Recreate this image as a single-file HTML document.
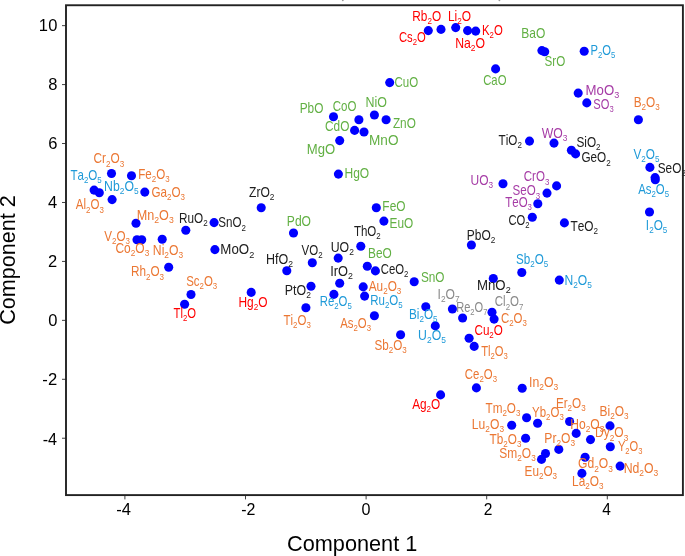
<!DOCTYPE html>
<html><head><meta charset="utf-8"><title>PCA of oxides</title>
<style>
html,body{margin:0;padding:0;background:#fff;overflow:hidden;}
svg{display:block;will-change:transform;}
text{font-family:"Liberation Sans",sans-serif;font-kerning:none;}
</style></head><body>
<svg width="685" height="556" viewBox="0 0 685 556">
<rect x="0" y="0" width="685" height="556" fill="#fff"/>
<path d="M124.90 495.10V499.40M245.50 495.10V499.40M366.10 495.10V499.40M486.70 495.10V499.40M607.30 495.10V499.40M66.00 25.65H62.00M66.00 84.59H62.00M66.00 143.53H62.00M66.00 202.47H62.00M66.00 261.41H62.00M66.00 320.35H62.00M66.00 379.29H62.00M66.00 438.23H62.00" stroke="#404040" stroke-width="1" fill="none"/>
<text font-size="16.5" fill="#000" transform="translate(38.64 31.00) scale(1.0000 1)">1</text>
<text font-size="16.5" fill="#000" transform="translate(48.27 31.00) scale(1.0000 1)">0</text>
<text font-size="16.5" fill="#000" transform="translate(48.24 90.40) scale(1.0000 1)">8</text>
<text font-size="16.5" fill="#000" transform="translate(48.35 148.90) scale(1.0000 1)">6</text>
<text font-size="16.5" fill="#000" transform="translate(48.01 208.10) scale(1.0000 1)">4</text>
<text font-size="16.5" fill="#000" transform="translate(48.05 267.00) scale(1.0000 1)">2</text>
<text font-size="16.5" fill="#000" transform="translate(48.37 326.00) scale(1.0000 1)">0</text>
<text font-size="16.5" fill="#000" transform="translate(42.36 385.00) scale(1.0070 1)">-2</text>
<text font-size="16.5" fill="#000" transform="translate(42.68 444.60) scale(0.9811 1)">-4</text>
<text font-size="16.5" fill="#000" transform="translate(116.36 514.60) scale(1.0034 1)">-4</text>
<text font-size="16.5" fill="#000" transform="translate(241.29 514.60) scale(0.9689 1)">-2</text>
<text font-size="16.5" fill="#000" transform="translate(361.57 514.60) scale(0.9762 1)">0</text>
<text font-size="16.5" fill="#000" transform="translate(483.72 514.60) scale(0.9445 1)">2</text>
<text font-size="16.5" fill="#000" transform="translate(602.34 514.60) scale(0.9381 1)">4</text>
<text font-size="22" fill="#000" transform="translate(287.00 550.90) scale(0.9870 1)">Component 1</text>
<text font-size="22" fill="#000" transform="translate(15.2 323.70) rotate(-90) scale(0.9818 1) translate(-1.12 0)">Component 2</text>
<g fill="#0000ff">
<circle cx="428.3" cy="30.6" r="4.55"/>
<circle cx="441.0" cy="29.4" r="4.55"/>
<circle cx="455.7" cy="27.6" r="4.55"/>
<circle cx="467.6" cy="30.6" r="4.55"/>
<circle cx="475.7" cy="31.1" r="4.55"/>
<circle cx="495.6" cy="68.9" r="4.55"/>
<circle cx="541.9" cy="50.6" r="4.55"/>
<circle cx="544.7" cy="51.8" r="4.55"/>
<circle cx="584.2" cy="51.2" r="4.55"/>
<circle cx="578.2" cy="93.1" r="4.55"/>
<circle cx="586.8" cy="102.9" r="4.55"/>
<circle cx="638.4" cy="119.8" r="4.55"/>
<circle cx="389.7" cy="82.6" r="4.55"/>
<circle cx="333.5" cy="116.7" r="4.55"/>
<circle cx="358.9" cy="119.7" r="4.55"/>
<circle cx="374.4" cy="115.0" r="4.55"/>
<circle cx="386.1" cy="119.7" r="4.55"/>
<circle cx="354.6" cy="130.4" r="4.55"/>
<circle cx="364.0" cy="132.0" r="4.55"/>
<circle cx="339.7" cy="140.6" r="4.55"/>
<circle cx="338.4" cy="174.1" r="4.55"/>
<circle cx="376.3" cy="207.8" r="4.55"/>
<circle cx="383.9" cy="221.1" r="4.55"/>
<circle cx="360.8" cy="246.2" r="4.55"/>
<circle cx="338.2" cy="258.1" r="4.55"/>
<circle cx="312.3" cy="262.8" r="4.55"/>
<circle cx="367.3" cy="266.2" r="4.55"/>
<circle cx="375.4" cy="270.9" r="4.55"/>
<circle cx="414.2" cy="281.7" r="4.55"/>
<circle cx="339.7" cy="283.2" r="4.55"/>
<circle cx="311.0" cy="286.3" r="4.55"/>
<circle cx="363.2" cy="286.9" r="4.55"/>
<circle cx="333.9" cy="294.4" r="4.55"/>
<circle cx="364.6" cy="296.1" r="4.55"/>
<circle cx="305.9" cy="307.8" r="4.55"/>
<circle cx="374.4" cy="315.8" r="4.55"/>
<circle cx="425.8" cy="306.8" r="4.55"/>
<circle cx="400.6" cy="334.7" r="4.55"/>
<circle cx="435.3" cy="325.9" r="4.55"/>
<circle cx="452.4" cy="309.0" r="4.55"/>
<circle cx="462.6" cy="318.0" r="4.55"/>
<circle cx="492.0" cy="312.3" r="4.55"/>
<circle cx="494.1" cy="319.1" r="4.55"/>
<circle cx="469.1" cy="338.2" r="4.55"/>
<circle cx="474.2" cy="346.4" r="4.55"/>
<circle cx="476.4" cy="387.9" r="4.55"/>
<circle cx="440.6" cy="394.9" r="4.55"/>
<circle cx="522.2" cy="388.2" r="4.55"/>
<circle cx="526.6" cy="417.7" r="4.55"/>
<circle cx="537.6" cy="423.2" r="4.55"/>
<circle cx="511.7" cy="425.3" r="4.55"/>
<circle cx="525.6" cy="438.2" r="4.55"/>
<circle cx="545.5" cy="453.5" r="4.55"/>
<circle cx="541.5" cy="459.4" r="4.55"/>
<circle cx="569.6" cy="421.5" r="4.55"/>
<circle cx="610.0" cy="425.9" r="4.55"/>
<circle cx="576.2" cy="433.4" r="4.55"/>
<circle cx="590.5" cy="439.6" r="4.55"/>
<circle cx="558.8" cy="449.4" r="4.55"/>
<circle cx="610.3" cy="446.8" r="4.55"/>
<circle cx="585.1" cy="457.2" r="4.55"/>
<circle cx="620.1" cy="466.1" r="4.55"/>
<circle cx="581.9" cy="473.4" r="4.55"/>
<circle cx="471.4" cy="245.0" r="4.55"/>
<circle cx="493.3" cy="278.5" r="4.55"/>
<circle cx="521.8" cy="272.5" r="4.55"/>
<circle cx="559.3" cy="280.1" r="4.55"/>
<circle cx="529.5" cy="141.1" r="4.55"/>
<circle cx="554.0" cy="143.1" r="4.55"/>
<circle cx="571.4" cy="150.3" r="4.55"/>
<circle cx="575.6" cy="153.9" r="4.55"/>
<circle cx="503.0" cy="183.7" r="4.55"/>
<circle cx="556.6" cy="185.9" r="4.55"/>
<circle cx="547.0" cy="193.1" r="4.55"/>
<circle cx="537.8" cy="203.7" r="4.55"/>
<circle cx="532.3" cy="217.2" r="4.55"/>
<circle cx="564.4" cy="222.9" r="4.55"/>
<circle cx="649.9" cy="167.4" r="4.55"/>
<circle cx="655.1" cy="177.6" r="4.55"/>
<circle cx="655.3" cy="179.7" r="4.55"/>
<circle cx="649.5" cy="212.0" r="4.55"/>
<circle cx="111.5" cy="173.5" r="4.55"/>
<circle cx="131.5" cy="175.8" r="4.55"/>
<circle cx="94.1" cy="190.1" r="4.55"/>
<circle cx="99.3" cy="192.7" r="4.55"/>
<circle cx="112.1" cy="199.6" r="4.55"/>
<circle cx="144.8" cy="192.1" r="4.55"/>
<circle cx="136.0" cy="223.2" r="4.55"/>
<circle cx="185.8" cy="230.2" r="4.55"/>
<circle cx="214.1" cy="222.6" r="4.55"/>
<circle cx="261.2" cy="207.7" r="4.55"/>
<circle cx="293.5" cy="233.0" r="4.55"/>
<circle cx="214.9" cy="249.6" r="4.55"/>
<circle cx="286.8" cy="270.7" r="4.55"/>
<circle cx="137.0" cy="239.7" r="4.55"/>
<circle cx="141.7" cy="239.7" r="4.55"/>
<circle cx="162.2" cy="239.3" r="4.55"/>
<circle cx="168.7" cy="267.3" r="4.55"/>
<circle cx="191.0" cy="294.5" r="4.55"/>
<circle cx="184.6" cy="304.3" r="4.55"/>
<circle cx="251.2" cy="292.4" r="4.55"/>
</g>
<g font-size="14" stroke-width="0">
<text fill="#ff0000" stroke="#ff0000" transform="translate(412.28 21.10) scale(0.8450 1)"><tspan>Rb</tspan><tspan font-size="9.6" dy="3.1">2</tspan><tspan dy="-3.1">O</tspan></text>
<text fill="#ff0000" stroke="#ff0000" transform="translate(447.97 20.90) scale(0.8535 1)"><tspan>Li</tspan><tspan font-size="9.6" dy="3.1">2</tspan><tspan dy="-3.1">O</tspan></text>
<text fill="#ff0000" stroke="#ff0000" transform="translate(398.98 42.20) scale(0.8042 1)"><tspan>Cs</tspan><tspan font-size="9.6" dy="3.1">2</tspan><tspan dy="-3.1">O</tspan></text>
<text fill="#ff0000" stroke="#ff0000" transform="translate(482.02 35.00) scale(0.8127 1)"><tspan>K</tspan><tspan font-size="9.6" dy="3.1">2</tspan><tspan dy="-3.1">O</tspan></text>
<text fill="#ff0000" stroke="#ff0000" transform="translate(455.14 48.30) scale(0.8760 1)"><tspan>Na</tspan><tspan font-size="9.6" dy="3.1">2</tspan><tspan dy="-3.1">O</tspan></text>
<text fill="#ff0000" stroke="#ff0000" transform="translate(238.47 307.00) scale(0.8512 1)"><tspan>Hg</tspan><tspan font-size="9.6" dy="3.1">2</tspan><tspan dy="-3.1">O</tspan></text>
<text fill="#ff0000" stroke="#ff0000" transform="translate(173.60 317.80) scale(0.8065 1)"><tspan>Tl</tspan><tspan font-size="9.6" dy="3.1">2</tspan><tspan dy="-3.1">O</tspan></text>
<text fill="#ff0000" stroke="#ff0000" transform="translate(474.46 335.00) scale(0.8337 1)"><tspan>Cu</tspan><tspan font-size="9.6" dy="3.1">2</tspan><tspan dy="-3.1">O</tspan></text>
<text fill="#ff0000" stroke="#ff0000" transform="translate(412.13 408.60) scale(0.8452 1)"><tspan>Ag</tspan><tspan font-size="9.6" dy="3.1">2</tspan><tspan dy="-3.1">O</tspan></text>
<text fill="#62b044" stroke="#62b044" transform="translate(521.36 38.10) scale(0.8589 1)"><tspan>BaO</tspan></text>
<text fill="#62b044" stroke="#62b044" transform="translate(544.62 66.00) scale(0.8311 1)"><tspan>SrO</tspan></text>
<text fill="#62b044" stroke="#62b044" transform="translate(483.17 85.10) scale(0.8101 1)"><tspan>CaO</tspan></text>
<text fill="#62b044" stroke="#62b044" transform="translate(394.46 87.00) scale(0.8247 1)"><tspan>CuO</tspan></text>
<text fill="#62b044" stroke="#62b044" transform="translate(299.68 112.90) scale(0.8475 1)"><tspan>PbO</tspan></text>
<text fill="#62b044" stroke="#62b044" transform="translate(332.76 110.80) scale(0.8247 1)"><tspan>CoO</tspan></text>
<text fill="#62b044" stroke="#62b044" transform="translate(365.43 107.20) scale(0.8882 1)"><tspan>NiO</tspan></text>
<text fill="#62b044" stroke="#62b044" transform="translate(392.88 128.20) scale(0.8425 1)"><tspan>ZnO</tspan></text>
<text fill="#62b044" stroke="#62b044" transform="translate(325.05 131.30) scale(0.8466 1)"><tspan>CdO</tspan></text>
<text fill="#62b044" stroke="#62b044" transform="translate(369.03 144.60) scale(0.9713 1)"><tspan>MnO</tspan></text>
<text fill="#62b044" stroke="#62b044" transform="translate(306.77 153.60) scale(0.9362 1)"><tspan>MgO</tspan></text>
<text fill="#62b044" stroke="#62b044" transform="translate(344.46 178.30) scale(0.8603 1)"><tspan>HgO</tspan></text>
<text fill="#62b044" stroke="#62b044" transform="translate(382.37 210.80) scale(0.8501 1)"><tspan>FeO</tspan></text>
<text fill="#62b044" stroke="#62b044" transform="translate(389.48 227.70) scale(0.8475 1)"><tspan>EuO</tspan></text>
<text fill="#62b044" stroke="#62b044" transform="translate(286.86 225.80) scale(0.8627 1)"><tspan>PdO</tspan></text>
<text fill="#62b044" stroke="#62b044" transform="translate(368.08 257.80) scale(0.8475 1)"><tspan>BeO</tspan></text>
<text fill="#62b044" stroke="#62b044" transform="translate(420.91 281.50) scale(0.8424 1)"><tspan>SnO</tspan></text>
<text fill="#1f9ad8" stroke="#1f9ad8" transform="translate(590.43 55.20) scale(0.8040 1)"><tspan>P</tspan><tspan font-size="9.6" dy="3.1">2</tspan><tspan dy="-3.1">O</tspan><tspan font-size="9.6" dy="3.1">5</tspan></text>
<text fill="#1f9ad8" stroke="#1f9ad8" transform="translate(70.39 179.70) scale(0.8282 1)"><tspan>Ta</tspan><tspan font-size="9.6" dy="3.1">2</tspan><tspan dy="-3.1">O</tspan><tspan font-size="9.6" dy="3.1">5</tspan></text>
<text fill="#1f9ad8" stroke="#1f9ad8" transform="translate(104.04 191.10) scale(0.8757 1)"><tspan>Nb</tspan><tspan font-size="9.6" dy="3.1">2</tspan><tspan dy="-3.1">O</tspan><tspan font-size="9.6" dy="3.1">5</tspan></text>
<text fill="#1f9ad8" stroke="#1f9ad8" transform="translate(633.50 158.70) scale(0.8410 1)"><tspan>V</tspan><tspan font-size="9.6" dy="3.1">2</tspan><tspan dy="-3.1">O</tspan><tspan font-size="9.6" dy="3.1">5</tspan></text>
<text fill="#1f9ad8" stroke="#1f9ad8" transform="translate(638.13 193.90) scale(0.8139 1)"><tspan>As</tspan><tspan font-size="9.6" dy="3.1">2</tspan><tspan dy="-3.1">O</tspan><tspan font-size="9.6" dy="3.1">5</tspan></text>
<text fill="#1f9ad8" stroke="#1f9ad8" transform="translate(645.86 230.00) scale(0.8417 1)"><tspan>I</tspan><tspan font-size="9.6" dy="3.1">2</tspan><tspan dy="-3.1">O</tspan><tspan font-size="9.6" dy="3.1">5</tspan></text>
<text fill="#1f9ad8" stroke="#1f9ad8" transform="translate(516.02 264.00) scale(0.8339 1)"><tspan>Sb</tspan><tspan font-size="9.6" dy="3.1">2</tspan><tspan dy="-3.1">O</tspan><tspan font-size="9.6" dy="3.1">5</tspan></text>
<text fill="#1f9ad8" stroke="#1f9ad8" transform="translate(564.46 284.50) scale(0.8663 1)"><tspan>N</tspan><tspan font-size="9.6" dy="3.1">2</tspan><tspan dy="-3.1">O</tspan><tspan font-size="9.6" dy="3.1">5</tspan></text>
<text fill="#1f9ad8" stroke="#1f9ad8" transform="translate(319.72 306.00) scale(0.8124 1)"><tspan>Re</tspan><tspan font-size="9.6" dy="3.1">2</tspan><tspan dy="-3.1">O</tspan><tspan font-size="9.6" dy="3.1">5</tspan></text>
<text fill="#1f9ad8" stroke="#1f9ad8" transform="translate(370.20 305.00) scale(0.8229 1)"><tspan>Ru</tspan><tspan font-size="9.6" dy="3.1">2</tspan><tspan dy="-3.1">O</tspan><tspan font-size="9.6" dy="3.1">5</tspan></text>
<text fill="#1f9ad8" stroke="#1f9ad8" transform="translate(408.98 318.50) scale(0.8409 1)"><tspan>Bi</tspan><tspan font-size="9.6" dy="3.1">2</tspan><tspan dy="-3.1">O</tspan><tspan font-size="9.6" dy="3.1">5</tspan></text>
<text fill="#1f9ad8" stroke="#1f9ad8" transform="translate(418.10 340.20) scale(0.8776 1)"><tspan>U</tspan><tspan font-size="9.6" dy="3.1">2</tspan><tspan dy="-3.1">O</tspan><tspan font-size="9.6" dy="3.1">5</tspan></text>
<text fill="#a63ca6" stroke="#a63ca6" transform="translate(585.57 95.00) scale(0.9441 1)"><tspan>MoO</tspan><tspan font-size="9.6" dy="3.1">3</tspan></text>
<text fill="#a63ca6" stroke="#a63ca6" transform="translate(593.34 108.70) scale(0.7956 1)"><tspan>SO</tspan><tspan font-size="9.6" dy="3.1">3</tspan></text>
<text fill="#a63ca6" stroke="#a63ca6" transform="translate(541.70 137.90) scale(0.8736 1)"><tspan>WO</tspan><tspan font-size="9.6" dy="3.1">3</tspan></text>
<text fill="#a63ca6" stroke="#a63ca6" transform="translate(470.52 184.80) scale(0.8576 1)"><tspan>UO</tspan><tspan font-size="9.6" dy="3.1">3</tspan></text>
<text fill="#a63ca6" stroke="#a63ca6" transform="translate(523.76 181.40) scale(0.8270 1)"><tspan>CrO</tspan><tspan font-size="9.6" dy="3.1">3</tspan></text>
<text fill="#a63ca6" stroke="#a63ca6" transform="translate(512.62 195.40) scale(0.8268 1)"><tspan>SeO</tspan><tspan font-size="9.6" dy="3.1">3</tspan></text>
<text fill="#a63ca6" stroke="#a63ca6" transform="translate(505.29 206.50) scale(0.8200 1)"><tspan>TeO</tspan><tspan font-size="9.6" dy="3.1">3</tspan></text>
<text fill="#eb7733" stroke="#eb7733" transform="translate(93.55 163.40) scale(0.8464 1)"><tspan>Cr</tspan><tspan font-size="9.6" dy="3.1">2</tspan><tspan dy="-3.1">O</tspan><tspan font-size="9.6" dy="3.1">3</tspan></text>
<text fill="#eb7733" stroke="#eb7733" transform="translate(138.20 178.70) scale(0.8284 1)"><tspan>Fe</tspan><tspan font-size="9.6" dy="3.1">2</tspan><tspan dy="-3.1">O</tspan><tspan font-size="9.6" dy="3.1">3</tspan></text>
<text fill="#eb7733" stroke="#eb7733" transform="translate(151.46 196.50) scale(0.8334 1)"><tspan>Ga</tspan><tspan font-size="9.6" dy="3.1">2</tspan><tspan dy="-3.1">O</tspan><tspan font-size="9.6" dy="3.1">3</tspan></text>
<text fill="#eb7733" stroke="#eb7733" transform="translate(75.73 209.40) scale(0.8252 1)"><tspan>Al</tspan><tspan font-size="9.6" dy="3.1">2</tspan><tspan dy="-3.1">O</tspan><tspan font-size="9.6" dy="3.1">3</tspan></text>
<text fill="#eb7733" stroke="#eb7733" transform="translate(136.71 220.00) scale(0.9025 1)"><tspan>Mn</tspan><tspan font-size="9.6" dy="3.1">2</tspan><tspan dy="-3.1">O</tspan><tspan font-size="9.6" dy="3.1">3</tspan></text>
<text fill="#eb7733" stroke="#eb7733" transform="translate(104.30 240.60) scale(0.8316 1)"><tspan>V</tspan><tspan font-size="9.6" dy="3.1">2</tspan><tspan dy="-3.1">O</tspan><tspan font-size="9.6" dy="3.1">3</tspan></text>
<text fill="#eb7733" stroke="#eb7733" transform="translate(115.44 253.20) scale(0.8557 1)"><tspan>Co</tspan><tspan font-size="9.6" dy="3.1">2</tspan><tspan dy="-3.1">O</tspan><tspan font-size="9.6" dy="3.1">3</tspan></text>
<text fill="#eb7733" stroke="#eb7733" transform="translate(152.85 254.90) scale(0.8700 1)"><tspan>Ni</tspan><tspan font-size="9.6" dy="3.1">2</tspan><tspan dy="-3.1">O</tspan><tspan font-size="9.6" dy="3.1">3</tspan></text>
<text fill="#eb7733" stroke="#eb7733" transform="translate(130.99 276.40) scale(0.8392 1)"><tspan>Rh</tspan><tspan font-size="9.6" dy="3.1">2</tspan><tspan dy="-3.1">O</tspan><tspan font-size="9.6" dy="3.1">3</tspan></text>
<text fill="#eb7733" stroke="#eb7733" transform="translate(186.13 286.30) scale(0.8196 1)"><tspan>Sc</tspan><tspan font-size="9.6" dy="3.1">2</tspan><tspan dy="-3.1">O</tspan><tspan font-size="9.6" dy="3.1">3</tspan></text>
<text fill="#eb7733" stroke="#eb7733" transform="translate(283.49 324.60) scale(0.8217 1)"><tspan>Ti</tspan><tspan font-size="9.6" dy="3.1">2</tspan><tspan dy="-3.1">O</tspan><tspan font-size="9.6" dy="3.1">3</tspan></text>
<text fill="#eb7733" stroke="#eb7733" transform="translate(368.73 290.70) scale(0.8420 1)"><tspan>Au</tspan><tspan font-size="9.6" dy="3.1">2</tspan><tspan dy="-3.1">O</tspan><tspan font-size="9.6" dy="3.1">3</tspan></text>
<text fill="#eb7733" stroke="#eb7733" transform="translate(340.13 327.50) scale(0.8143 1)"><tspan>As</tspan><tspan font-size="9.6" dy="3.1">2</tspan><tspan dy="-3.1">O</tspan><tspan font-size="9.6" dy="3.1">3</tspan></text>
<text fill="#eb7733" stroke="#eb7733" transform="translate(374.42 350.00) scale(0.8343 1)"><tspan>Sb</tspan><tspan font-size="9.6" dy="3.1">2</tspan><tspan dy="-3.1">O</tspan><tspan font-size="9.6" dy="3.1">3</tspan></text>
<text fill="#eb7733" stroke="#eb7733" transform="translate(633.68 107.30) scale(0.8420 1)"><tspan>B</tspan><tspan font-size="9.6" dy="3.1">2</tspan><tspan dy="-3.1">O</tspan><tspan font-size="9.6" dy="3.1">3</tspan></text>
<text fill="#eb7733" stroke="#eb7733" transform="translate(500.97 322.80) scale(0.8185 1)"><tspan>C</tspan><tspan font-size="9.6" dy="3.1">2</tspan><tspan dy="-3.1">O</tspan><tspan font-size="9.6" dy="3.1">3</tspan></text>
<text fill="#eb7733" stroke="#eb7733" transform="translate(481.20 355.50) scale(0.8032 1)"><tspan>Tl</tspan><tspan font-size="9.6" dy="3.1">2</tspan><tspan dy="-3.1">O</tspan><tspan font-size="9.6" dy="3.1">3</tspan></text>
<text fill="#eb7733" stroke="#eb7733" transform="translate(464.87 379.20) scale(0.8140 1)"><tspan>Ce</tspan><tspan font-size="9.6" dy="3.1">2</tspan><tspan dy="-3.1">O</tspan><tspan font-size="9.6" dy="3.1">3</tspan></text>
<text fill="#eb7733" stroke="#eb7733" transform="translate(529.01 386.80) scale(0.8785 1)"><tspan>In</tspan><tspan font-size="9.6" dy="3.1">2</tspan><tspan dy="-3.1">O</tspan><tspan font-size="9.6" dy="3.1">3</tspan></text>
<text fill="#eb7733" stroke="#eb7733" transform="translate(485.49 412.70) scale(0.8357 1)"><tspan>Tm</tspan><tspan font-size="9.6" dy="3.1">2</tspan><tspan dy="-3.1">O</tspan><tspan font-size="9.6" dy="3.1">3</tspan></text>
<text fill="#eb7733" stroke="#eb7733" transform="translate(532.10 417.00) scale(0.8192 1)"><tspan>Yb</tspan><tspan font-size="9.6" dy="3.1">2</tspan><tspan dy="-3.1">O</tspan><tspan font-size="9.6" dy="3.1">3</tspan></text>
<text fill="#eb7733" stroke="#eb7733" transform="translate(555.89 407.80) scale(0.8383 1)"><tspan>Er</tspan><tspan font-size="9.6" dy="3.1">2</tspan><tspan dy="-3.1">O</tspan><tspan font-size="9.6" dy="3.1">3</tspan></text>
<text fill="#eb7733" stroke="#eb7733" transform="translate(599.57 416.00) scale(0.8537 1)"><tspan>Bi</tspan><tspan font-size="9.6" dy="3.1">2</tspan><tspan dy="-3.1">O</tspan><tspan font-size="9.6" dy="3.1">3</tspan></text>
<text fill="#eb7733" stroke="#eb7733" transform="translate(471.86 428.70) scale(0.8659 1)"><tspan>Lu</tspan><tspan font-size="9.6" dy="3.1">2</tspan><tspan dy="-3.1">O</tspan><tspan font-size="9.6" dy="3.1">3</tspan></text>
<text fill="#eb7733" stroke="#eb7733" transform="translate(570.16 429.20) scale(0.8656 1)"><tspan>Ho</tspan><tspan font-size="9.6" dy="3.1">2</tspan><tspan dy="-3.1">O</tspan><tspan font-size="9.6" dy="3.1">3</tspan></text>
<text fill="#eb7733" stroke="#eb7733" transform="translate(595.07 437.40) scale(0.8570 1)"><tspan>Dy</tspan><tspan font-size="9.6" dy="3.1">2</tspan><tspan dy="-3.1">O</tspan><tspan font-size="9.6" dy="3.1">3</tspan></text>
<text fill="#eb7733" stroke="#eb7733" transform="translate(489.59 444.00) scale(0.8394 1)"><tspan>Tb</tspan><tspan font-size="9.6" dy="3.1">2</tspan><tspan dy="-3.1">O</tspan><tspan font-size="9.6" dy="3.1">3</tspan></text>
<text fill="#eb7733" stroke="#eb7733" transform="translate(544.36 442.50) scale(0.8648 1)"><tspan>Pr</tspan><tspan font-size="9.6" dy="3.1">2</tspan><tspan dy="-3.1">O</tspan><tspan font-size="9.6" dy="3.1">3</tspan></text>
<text fill="#eb7733" stroke="#eb7733" transform="translate(617.91 451.00) scale(0.7953 1)"><tspan>Y</tspan><tspan font-size="9.6" dy="3.1">2</tspan><tspan dy="-3.1">O</tspan><tspan font-size="9.6" dy="3.1">3</tspan></text>
<text fill="#eb7733" stroke="#eb7733" transform="translate(499.31 458.30) scale(0.8552 1)"><tspan>Sm</tspan><tspan font-size="9.6" dy="3.1">2</tspan><tspan dy="-3.1">O</tspan><tspan font-size="9.6" dy="3.1">3</tspan></text>
<text fill="#eb7733" stroke="#eb7733" transform="translate(578.04 468.40) scale(0.8666 1)"><tspan>Gd</tspan><tspan font-size="9.6" dy="3.1">2</tspan><tspan dy="-3.1">O</tspan><tspan font-size="9.6" dy="3.1">3</tspan></text>
<text fill="#eb7733" stroke="#eb7733" transform="translate(623.64 472.90) scale(0.8788 1)"><tspan>Nd</tspan><tspan font-size="9.6" dy="3.1">2</tspan><tspan dy="-3.1">O</tspan><tspan font-size="9.6" dy="3.1">3</tspan></text>
<text fill="#eb7733" stroke="#eb7733" transform="translate(524.58 476.00) scale(0.8405 1)"><tspan>Eu</tspan><tspan font-size="9.6" dy="3.1">2</tspan><tspan dy="-3.1">O</tspan><tspan font-size="9.6" dy="3.1">3</tspan></text>
<text fill="#eb7733" stroke="#eb7733" transform="translate(572.07 486.10) scale(0.8490 1)"><tspan>La</tspan><tspan font-size="9.6" dy="3.1">2</tspan><tspan dy="-3.1">O</tspan><tspan font-size="9.6" dy="3.1">3</tspan></text>
<text fill="#202020" stroke="#202020" transform="translate(249.07 196.80) scale(0.8627 1)"><tspan>ZrO</tspan><tspan font-size="9.6" dy="3.1">2</tspan></text>
<text fill="#202020" stroke="#202020" transform="translate(178.99 223.00) scale(0.8402 1)"><tspan>RuO</tspan><tspan font-size="9.6" dy="3.1">2</tspan></text>
<text fill="#202020" stroke="#202020" transform="translate(218.32 227.40) scale(0.8283 1)"><tspan>SnO</tspan><tspan font-size="9.6" dy="3.1">2</tspan></text>
<text fill="#202020" stroke="#202020" transform="translate(220.36 254.40) scale(0.9517 1)"><tspan>MoO</tspan><tspan font-size="9.6" dy="3.1">2</tspan></text>
<text fill="#202020" stroke="#202020" transform="translate(266.02 263.60) scale(0.8952 1)"><tspan>HfO</tspan><tspan font-size="9.6" dy="3.1">2</tspan></text>
<text fill="#202020" stroke="#202020" transform="translate(301.50 254.70) scale(0.8233 1)"><tspan>VO</tspan><tspan font-size="9.6" dy="3.1">2</tspan></text>
<text fill="#202020" stroke="#202020" transform="translate(330.70 251.70) scale(0.8799 1)"><tspan>UO</tspan><tspan font-size="9.6" dy="3.1">2</tspan></text>
<text fill="#202020" stroke="#202020" transform="translate(353.89 235.50) scale(0.8247 1)"><tspan>ThO</tspan><tspan font-size="9.6" dy="3.1">2</tspan></text>
<text fill="#202020" stroke="#202020" transform="translate(330.17 276.00) scale(0.9172 1)"><tspan>IrO</tspan><tspan font-size="9.6" dy="3.1">2</tspan></text>
<text fill="#202020" stroke="#202020" transform="translate(380.77 273.90) scale(0.8108 1)"><tspan>CeO</tspan><tspan font-size="9.6" dy="3.1">2</tspan></text>
<text fill="#202020" stroke="#202020" transform="translate(284.83 294.60) scale(0.8841 1)"><tspan>PtO</tspan><tspan font-size="9.6" dy="3.1">2</tspan></text>
<text fill="#202020" stroke="#202020" transform="translate(498.59 145.00) scale(0.8341 1)"><tspan>TiO</tspan><tspan font-size="9.6" dy="3.1">2</tspan></text>
<text fill="#202020" stroke="#202020" transform="translate(576.41 146.50) scale(0.8418 1)"><tspan>SiO</tspan><tspan font-size="9.6" dy="3.1">2</tspan></text>
<text fill="#202020" stroke="#202020" transform="translate(581.46 162.40) scale(0.8393 1)"><tspan>GeO</tspan><tspan font-size="9.6" dy="3.1">2</tspan></text>
<text fill="#202020" stroke="#202020" transform="translate(657.71 172.90) scale(0.8474 1)"><tspan>SeO</tspan><tspan font-size="9.6" dy="3.1">2</tspan></text>
<text fill="#202020" stroke="#202020" transform="translate(508.38 224.70) scale(0.8033 1)"><tspan>CO</tspan><tspan font-size="9.6" dy="3.1">2</tspan></text>
<text fill="#202020" stroke="#202020" transform="translate(570.48 231.00) scale(0.8467 1)"><tspan>TeO</tspan><tspan font-size="9.6" dy="3.1">2</tspan></text>
<text fill="#202020" stroke="#202020" transform="translate(466.77 240.30) scale(0.8543 1)"><tspan>PbO</tspan><tspan font-size="9.6" dy="3.1">2</tspan></text>
<text fill="#202020" stroke="#202020" transform="translate(476.96 290.30) scale(0.9458 1)"><tspan>MnO</tspan><tspan font-size="9.6" dy="3.1">2</tspan></text>
<text fill="#8a8a8a" stroke="#8a8a8a" transform="translate(437.53 299.30) scale(0.8656 1)"><tspan>I</tspan><tspan font-size="9.6" dy="3.1">2</tspan><tspan dy="-3.1">O</tspan><tspan font-size="9.6" dy="3.1">7</tspan></text>
<text fill="#8a8a8a" stroke="#8a8a8a" transform="translate(456.14 312.00) scale(0.7930 1)"><tspan>Re</tspan><tspan font-size="9.6" dy="3.1">2</tspan><tspan dy="-3.1">O</tspan><tspan font-size="9.6" dy="3.1">7</tspan></text>
<text fill="#8a8a8a" stroke="#8a8a8a" transform="translate(494.76 306.40) scale(0.8245 1)"><tspan>Cl</tspan><tspan font-size="9.6" dy="3.1">2</tspan><tspan dy="-3.1">O</tspan><tspan font-size="9.6" dy="3.1">7</tspan></text>
</g>
<g fill="#9a9a9a"><ellipse cx="342.8" cy="0.4" rx="0.9" ry="0.8"/><ellipse cx="499.4" cy="0.4" rx="0.9" ry="0.8"/></g>
<rect x="66.00" y="5.25" width="616.90" height="489.85" fill="none" stroke="#222" stroke-width="1.9"/>
</svg>
</body></html>
